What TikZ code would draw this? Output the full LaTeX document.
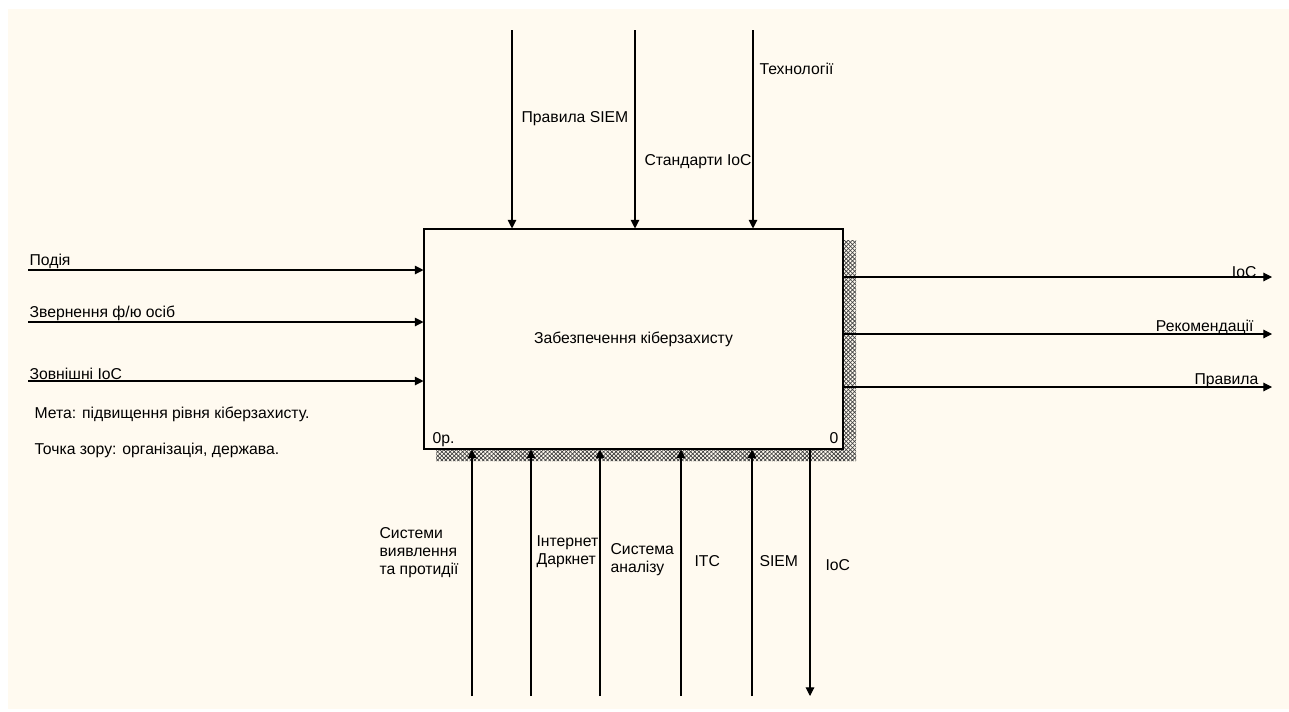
\documentclass[tikz,border=0pt]{standalone}
\usepackage{fontspec}
\setmainfont{Liberation Sans}
\usepackage{xcolor}
\usetikzlibrary{arrows.meta,patterns.meta}
\definecolor{paper}{RGB}{255,250,240}

\begin{document}
\begin{tikzpicture}[x=0.75pt, y=-0.75pt,
  % Node Styles
  fnode/.style={rectangle, draw, thick, fill=paper, minimum width=314.25pt, minimum height=165pt, inner sep=0pt, align=center},
  lbl/.style={inner sep=1pt, align=left},
  % Arrow Styles
  solidarrow/.style={-{Triangle[length=6.5pt, width=6.5pt]}, thick},
  hatchA/.style={pattern={Lines[angle=45, distance=2.2pt, line width=0.55pt]}, pattern color=black!75},
  hatchB/.style={pattern={Lines[angle=-45, distance=2.2pt, line width=0.55pt]}, pattern color=black!75}
]
\tikzset{font=\fontsize{11.8}{13.5}\selectfont}

% Diagram for: A-0 context

\useasboundingbox (0,0) rectangle (1289,711);
\fill[paper] (8,9) rectangle (1289,709);

\fill[hatchA] (843,240) -- (856,240) -- (856,461) -- (436,461) -- (436,449) -- (843,449) -- cycle;
\fill[hatchB] (843,240) -- (856,240) -- (856,461) -- (436,461) -- (436,449) -- (843,449) -- cycle;
\node[fnode] (A_0) at (633.5,339) {Забезпечення кіберзахисту};
\node[lbl, anchor=base west] (A_0n) at (431,443) {0р.};
\node[lbl, anchor=base east] (A_0i) at (840,443) {0};

% controls
\coordinate (C_1) at (512,30);
\coordinate (C_2) at (635,30);
\coordinate (C_3) at (753,30);
\draw[solidarrow] (C_1) -- (C_1 |- A_0.north);
\draw[solidarrow] (C_2) -- (C_2 |- A_0.north);
\draw[solidarrow] (C_3) -- (C_3 |- A_0.north);
\node[lbl, anchor=west] (C_1l) at (520,119) {Правила SIEM};
\node[lbl, anchor=west] (C_2l) at (643,162) {Стандарти IoC};
\node[lbl, anchor=west] (C_3l) at (758,69) {Технології};

% inputs
\coordinate (I_1) at (28,270);
\coordinate (I_2) at (28,322);
\coordinate (I_3) at (28,381);
\draw[solidarrow] (I_1) -- (I_1 -| A_0.west);
\draw[solidarrow] (I_2) -- (I_2 -| A_0.west);
\draw[solidarrow] (I_3) -- (I_3 -| A_0.west);
\node[lbl, anchor=south west] (I_1l) at (I_1) {Подія};
\node[lbl, anchor=south west] (I_2l) at (I_2) {Звернення ф/ю осіб};
\node[lbl, anchor=south west] (I_3l) at (I_3) {Зовнішні IoC};

% outputs
\coordinate (O_1) at (1272,277);
\coordinate (O_2) at (1272,334);
\coordinate (O_3) at (1272,387);
\draw[solidarrow] (O_1 -| A_0.east) -- (O_1);
\draw[solidarrow] (O_2 -| A_0.east) -- (O_2);
\draw[solidarrow] (O_3 -| A_0.east) -- (O_3);
\node[lbl, anchor=south east] (O_1l) at (1258,279) {IoC};
\node[lbl, anchor=south east] (O_2l) at (1255,336) {Рекомендації};
\node[lbl, anchor=south east] (O_3l) at (1260,389) {Правила};

% mechanisms
\coordinate (M_1) at (472,696);
\coordinate (M_2) at (531,696);
\coordinate (M_3) at (600,696);
\coordinate (M_4) at (681,696);
\coordinate (M_5) at (752,696);
\coordinate (M_6) at (810,696);
\draw[solidarrow] (M_1) -- (M_1 |- A_0.south);
\draw[solidarrow] (M_2) -- (M_2 |- A_0.south);
\draw[solidarrow] (M_3) -- (M_3 |- A_0.south);
\draw[solidarrow] (M_4) -- (M_4 |- A_0.south);
\draw[solidarrow] (M_5) -- (M_5 |- A_0.south);
\draw[solidarrow] (M_6 |- A_0.south) -- (M_6);
\node[lbl, anchor=west] (M_1l) at (378,553) {Системи\\виявлення\\та протидії};
\node[lbl, anchor=west] (M_2l) at (535,552) {Інтернет\\Даркнет};
\node[lbl, anchor=west] (M_3l) at (609,560) {Система\\аналізу};
\node[lbl, anchor=west] (M_4l) at (693,561) {ITC};
\node[lbl, anchor=west] (M_5l) at (758,561) {SIEM};
\node[lbl, anchor=west] (M_6l) at (824,565) {IoC};

% notes
\node[lbl, anchor=west] (N_1) at (33,414) {Мета: підвищення рівня кіберзахисту.};
\node[lbl, anchor=west] (N_2) at (33,450) {Точка зору: організація, держава.};

\end{tikzpicture}
\end{document}
